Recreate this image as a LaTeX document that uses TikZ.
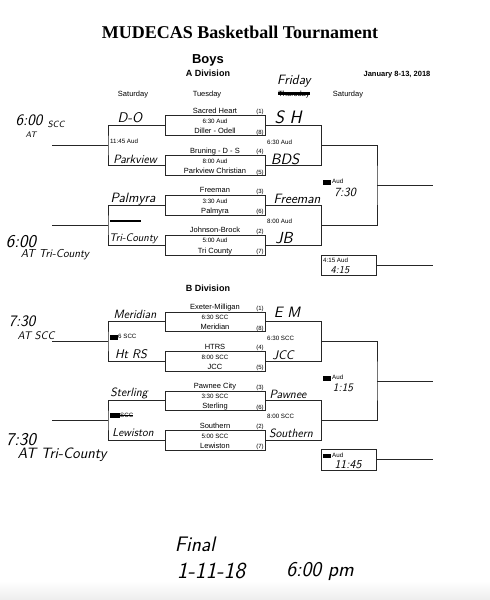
\documentclass[tikz,border=0pt]{standalone}
\usepackage{fontspec}
\newfontfamily\timesfont{Liberation Serif}
\newfontfamily\arialfont{Liberation Sans}
\usepackage{tikz}
\usetikzlibrary{positioning}
\newcommand{\smudge}[1][1.3em]{\rule[-0.25ex]{#1}{1.35ex}}

\begin{document}
\begin{tikzpicture}[
  x=1pt, y=-1pt,
  every node/.style = {inner sep=0pt, text=black},
  game/.style  = {rectangle, draw=black!85, line width=0.7pt,
                  minimum width=100pt, minimum height=20pt},
  cons/.style  = {rectangle, draw=black!85, line width=0.7pt,
                  minimum width=55pt, minimum height=19.5pt},
  team/.style  = {font=\arialfont\fontsize{7.5}{8}\selectfont, anchor=base},
  slot/.style  = {font=\arialfont\fontsize{6.2}{7}\selectfont, anchor=base},
  seed/.style  = {font=\arialfont\fontsize{6}{7}\selectfont, anchor=base east},
  head/.style  = {font=\arialfont\fontsize{7.5}{8}\selectfont, anchor=base},
  hand/.style  = {font=\sffamily\itshape\fontsize{#1}{#1}\selectfont, anchor=base},
  wire/.style  = {draw=black!85, line width=0.7pt},
  strike/.style = {line width=2.6pt, black}
]
\useasboundingbox (0,0) rectangle (490,600);
\shade[top color=white, bottom color=black!7] (0,581) rectangle (490,600);

%% ── HEADER ───────────────────────────────────────────────────────
\node[font=\timesfont\bfseries\fontsize{18}{20}\selectfont] at (240,32) (title)
  {MUDECAS Basketball Tournament};
\node[head, font=\arialfont\bfseries\fontsize{13}{14}\selectfont] at (208,63.5) (boys) {Boys};
\node[head, font=\arialfont\bfseries\fontsize{9}{10}\selectfont] at (208,76) (adiv) {A Division};
\node[head, font=\arialfont\bfseries\fontsize{7.5}{8}\selectfont] at (397,76.7) (dates) {January 8-13, 2018};
\node[hand=13.5] at (294,84.5) (fri) {Friday};
\node[head] at (133,96) (hsat1) {Saturday};
\node[head] at (207,96) (htue)  {Tuesday};
\node[head] at (294,96) (hthu)  {Thursday};
\node[head] at (348,96) (hsat2) {Saturday};
\draw[strike] ([yshift=2.4pt]hthu.base west) -- ([yshift=2.4pt]hthu.base east);

%% ── A DIVISION, TUESDAY GAMES ────────────────────────────────────
\node[game] at (215,125.6) (a1) {};
\node[game] at (215,165.4) (a2) {};
\node[game] at (215,205.1) (a3) {};
\node[game] at (215,244.9) (a4) {};

\node[team] at ([yshift=2pt]a1.north) (a1t) {Sacred Heart};
\node[slot] at ([yshift=-8.3pt]a1.north) (a1s) {6:30 Aud};
\node[team] at ([yshift=2pt]a1.south) (a1b) {Diller - Odell};
\node[team] at ([yshift=2pt]a2.north) (a2t) {Bruning - D - S};
\node[slot] at ([yshift=-8.3pt]a2.north) (a2s) {8:00 Aud};
\node[team] at ([yshift=2pt]a2.south) (a2b) {Parkview Christian};
\node[team] at ([yshift=2pt]a3.north) (a3t) {Freeman};
\node[slot] at ([yshift=-8.3pt]a3.north) (a3s) {3:30 Aud};
\node[team] at ([yshift=2pt]a3.south) (a3b) {Palmyra};
\node[team] at ([yshift=2pt]a4.north) (a4t) {Johnson-Brock};
\node[slot] at ([yshift=-8.3pt]a4.north) (a4s) {5:00 Aud};
\node[team] at ([yshift=2pt]a4.south) (a4b) {Tri County};

\node[seed] at ([xshift=-1.5pt,yshift=1.5pt]a1.north east) {(1)};
\node[seed] at ([xshift=-1.5pt,yshift=1.5pt]a1.south east) {(8)};
\node[seed] at ([xshift=-1.5pt,yshift=1.5pt]a2.north east) {(4)};
\node[seed] at ([xshift=-1.5pt,yshift=1.5pt]a2.south east) {(5)};
\node[seed] at ([xshift=-1.5pt,yshift=1.5pt]a3.north east) {(3)};
\node[seed] at ([xshift=-1.5pt,yshift=1.5pt]a3.south east) {(6)};
\node[seed] at ([xshift=-1.5pt,yshift=1.5pt]a4.north east) {(2)};
\node[seed] at ([xshift=-1.5pt,yshift=1.5pt]a4.south east) {(7)};

%% ── A DIVISION, BRACKET POINTS ───────────────────────────────────
\coordinate (la1) at (108,145.5);
\coordinate (la2) at (108,225);
\coordinate (oa1) at (52,145.5);
\coordinate (oa2) at (52,225);
\coordinate (ta1) at (321.5,145.5);
\coordinate (ta2) at (321.5,225);
\coordinate (sa)  at (377,185.3);
\coordinate (fa)  at (433,185.3);
\node[cons] at (349.25,265.5) (ca) {};
\coordinate (ga)  at (433,265.5);

\draw[wire] (a1.west) -| (la1) |- (a2.west);
\draw[wire] (a3.west) -| (la2) |- (a4.west);
\draw[wire] (la1) -- (oa1);
\draw[wire] (la2) -- (oa2);
\draw[wire] (a1.east) -| (ta1) |- (a2.east);
\draw[wire] (a3.east) -| (ta2) |- (a4.east);
\draw[wire] (ta1) -| (sa) |- (ta2);
\draw[wire] (sa) -- (fa);
\draw[wire] (ca) -- (ga);

%% ── A DIVISION, LABELS ───────────────────────────────────────────
\node[slot, anchor=base west] at (110,143)   {11:45 Aud};
\node[slot, anchor=base west] at (267,144.7) {6:30 Aud};
\node[slot, anchor=base west] at (267,223.7) {8:00 Aud};
\node[slot, anchor=base west] at (323,183.7) {\smudge[8pt]\,Aud};
\node[slot, anchor=base west] at (323,262.7) {4:15 Aud};
\node[anchor=west] at (110,220.5) (scra) {\rule{31pt}{2pt}};

\node[hand=14]   at (130,122)   {D-O};
\node[hand=12]   at (135,163)   {Parkview};
\node[hand=13.5] at (133,202)   {Palmyra};
\node[hand=11]   at (133.5,241.5) {Tri-County};
\node[hand=18]   at (288,123.3) {S H};
\node[hand=15]   at (285,164)   {BDS};
\node[hand=13.5] at (297,203.5) {Freeman};
\node[hand=16]   at (284,243)   {JB};
\node[hand=12.5] at (345,196)   {7:30};
\node[hand=10.5] at (340,273)   {4:15};

\node[hand=16] at (29,125)   {6:00};
\node[hand=9]  at (56,127)   {SCC};
\node[hand=8]  at (31,137)   {AT};
\node[hand=18] at (21,247.5) {6:00};
\node[hand=11.5] at (55,257) {AT Tri-County};

%% ── B DIVISION, TUESDAY GAMES ────────────────────────────────────
\node[head, font=\arialfont\bfseries\fontsize{9}{10}\selectfont] at (208,291.7) (bdiv) {B Division};

\node[game, minimum height=19.5pt] at (215,321.7) (b1) {};
\node[game, minimum height=19.5pt] at (215,361.2) (b2) {};
\node[game, minimum height=19.5pt] at (215,400.7) (b3) {};
\node[game, minimum height=19.5pt] at (215,440.2) (b4) {};

\node[team] at ([yshift=2pt]b1.north) (b1t) {Exeter-Milligan};
\node[slot] at ([yshift=-8.3pt]b1.north) (b1s) {6:30 SCC};
\node[team] at ([yshift=2pt]b1.south) (b1b) {Meridian};
\node[team] at ([yshift=2pt]b2.north) (b2t) {HTRS};
\node[slot] at ([yshift=-8.3pt]b2.north) (b2s) {8:00 SCC};
\node[team] at ([yshift=2pt]b2.south) (b2b) {JCC};
\node[team] at ([yshift=2pt]b3.north) (b3t) {Pawnee City};
\node[slot] at ([yshift=-8.3pt]b3.north) (b3s) {3:30 SCC};
\node[team] at ([yshift=2pt]b3.south) (b3b) {Sterling};
\node[team] at ([yshift=2pt]b4.north) (b4t) {Southern};
\node[slot] at ([yshift=-8.3pt]b4.north) (b4s) {5:00 SCC};
\node[team] at ([yshift=2pt]b4.south) (b4b) {Lewiston};

\node[seed] at ([xshift=-1.5pt,yshift=1.5pt]b1.north east) {(1)};
\node[seed] at ([xshift=-1.5pt,yshift=1.5pt]b1.south east) {(8)};
\node[seed] at ([xshift=-1.5pt,yshift=1.5pt]b2.north east) {(4)};
\node[seed] at ([xshift=-1.5pt,yshift=1.5pt]b2.south east) {(5)};
\node[seed] at ([xshift=-1.5pt,yshift=1.5pt]b3.north east) {(3)};
\node[seed] at ([xshift=-1.5pt,yshift=1.5pt]b3.south east) {(6)};
\node[seed] at ([xshift=-1.5pt,yshift=1.5pt]b4.north east) {(2)};
\node[seed] at ([xshift=-1.5pt,yshift=1.5pt]b4.south east) {(7)};

%% ── B DIVISION, BRACKET POINTS ───────────────────────────────────
\coordinate (lb1) at (108,341.45);
\coordinate (lb2) at (108,420.45);
\coordinate (ob1) at (52,341.45);
\coordinate (ob2) at (52,420.45);
\coordinate (tb1) at (321.5,341.45);
\coordinate (tb2) at (321.5,420.45);
\coordinate (sb)  at (377,380.95);
\coordinate (fb)  at (433,380.95);
\node[cons, minimum height=21pt] at (349.25,459.5) (cb) {};
\coordinate (gb)  at (433,459.5);

\draw[wire] (b1.west) -| (lb1) |- (b2.west);
\draw[wire] (b3.west) -| (lb2) |- (b4.west);
\draw[wire] (lb1) -- (ob1);
\draw[wire] (lb2) -- (ob2);
\draw[wire] (b1.east) -| (tb1) |- (b2.east);
\draw[wire] (b3.east) -| (tb2) |- (b4.east);
\draw[wire] (tb1) -| (sb) |- (tb2);
\draw[wire] (sb) -- (fb);
\draw[wire] (cb) -- (gb);

%% ── B DIVISION, LABELS ───────────────────────────────────────────
\node[slot, anchor=base west] at (110,338.7) {\smudge[8pt]6 SCC};
\node[slot, anchor=base west] at (110,417) (scrb) {\smudge[10pt]SCC};
\draw[line width=0.9pt] (scrb.west) -- (scrb.east);
\node[slot, anchor=base west] at (267,340.3) {6:30 SCC};
\node[slot, anchor=base west] at (267,418.7) {8:00 SCC};
\node[slot, anchor=base west] at (323,379.7) {\smudge[8pt]\,Aud};
\node[slot, anchor=base west] at (323,457.5) {\smudge[8pt]\,Aud};

\node[hand=12]   at (135,318)   {Meridian};
\node[hand=12.5] at (131,358)   {Ht RS};
\node[hand=12]   at (129,396.5) {Sterling};
\node[hand=11.5] at (133,436.7) {Lewiston};
\node[hand=15]   at (287,317.7) {E M};
\node[hand=12.5] at (283,359.3) {JCC};
\node[hand=12]   at (288,398.3) {Pawnee};
\node[hand=12]   at (291,437.3) {Southern};
\node[hand=11.5] at (343,391)   {1:15};
\node[hand=12]   at (348,468)   {11:45};

\node[hand=16] at (22,326) {7:30};
\node[hand=11] at (36,339.5) {AT SCC};
\node[hand=18] at (21,445)   {7:30};
\node[hand=15] at (62,458)   {AT Tri-County};

%% ── FINAL ────────────────────────────────────────────────────────
\node[hand=21] at (195,551) (final) {Final};
\node[hand=23] at (211,578) (fdate) {1-11-18};
\node[hand=21] at (320,576) (ftime) {6:00 pm};

\end{tikzpicture}
\end{document}
